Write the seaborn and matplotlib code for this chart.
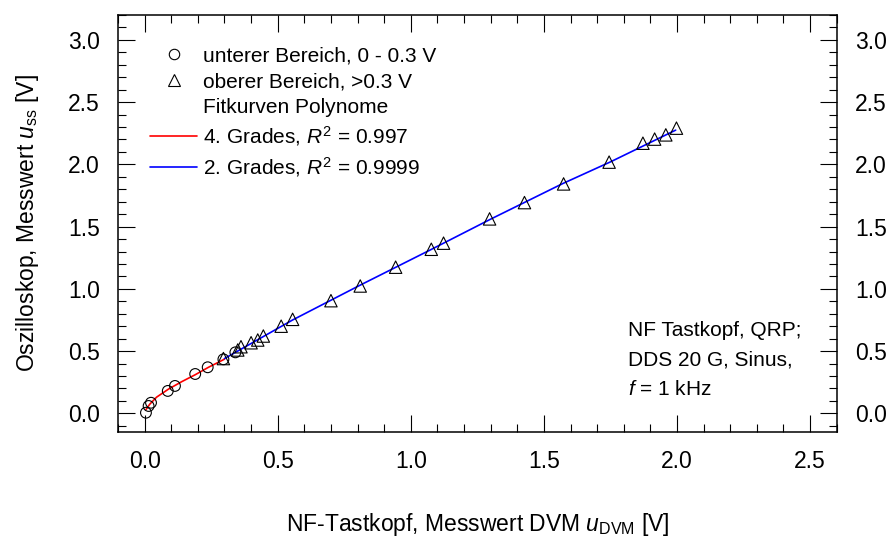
import matplotlib
matplotlib.use("Agg")
import matplotlib.pyplot as plt
from matplotlib.ticker import MultipleLocator, FormatStrFormatter
from matplotlib.lines import Line2D
import seaborn as sns
import pandas as pd

# ---- data ----
x_lo = [0.005, 0.015, 0.024, 0.087, 0.114, 0.19, 0.237, 0.296, 0.341]
y_lo = [0.005, 0.059, 0.085, 0.18, 0.22, 0.316, 0.37, 0.434, 0.49]

x_hi = [0.296, 0.35, 0.362, 0.40, 0.425, 0.446, 0.513, 0.556, 0.70, 0.81, 0.943,
        1.077, 1.123, 1.296, 1.427, 1.574, 1.745, 1.872, 1.916, 1.958, 1.998]
y_hi = [0.44, 0.509, 0.535, 0.567, 0.589, 0.621, 0.70, 0.755, 0.905, 1.023, 1.174,
        1.318, 1.367, 1.562, 1.693, 1.843, 2.018, 2.17, 2.203, 2.237, 2.291]

fit4_x = [0.005, 0.02, 0.045, 0.09, 0.14, 0.19, 0.24, 0.30]
fit4_y = [0.03, 0.075, 0.13, 0.195, 0.255, 0.31, 0.37, 0.435]

fit2_x = [0.30, 0.556, 0.81, 1.08, 1.30, 1.57, 1.75, 1.995]
fit2_y = [0.44, 0.75, 1.03, 1.32, 1.56, 1.845, 2.02, 2.275]

legend_labels = ["unterer Bereich, 0 - 0.3 V", "oberer Bereich, >0.3 V",
                 "Fitkurven Polynome", r"4. Grades, $R^2$ = 0.997",
                 r"2. Grades, $R^2$ = 0.9999"]
note_text = "NF Tastkopf, QRP;\nDDS 20 G, Sinus,\n$f$ = 1 kHz"
xlabel = r"NF-Tastkopf, Messwert DVM $u_{\mathrm{DVM}}$ [V]"
ylabel = r"Oszilloskop, Messwert $u_{\mathrm{ss}}$ [V]"

sns.set_theme(style="ticks")
plt.rcParams["font.family"] = ["Liberation Sans", "DejaVu Sans"]
plt.rcParams["mathtext.fontset"] = "custom"
plt.rcParams["mathtext.rm"] = "Liberation Sans"
plt.rcParams["mathtext.it"] = "Liberation Sans:italic"
plt.rcParams["mathtext.bf"] = "Liberation Sans:bold"
plt.rcParams["text.color"] = "black"
plt.rcParams["axes.labelcolor"] = "black"

fig = plt.figure(figsize=(8.95, 5.36), dpi=100)
ax = fig.add_axes([118 / 895, 1 - 432 / 536, (836.7 - 118) / 895, (432 - 15) / 536])

df_lo = pd.DataFrame({"x": x_lo, "y": y_lo})
df_hi = pd.DataFrame({"x": x_hi, "y": y_hi})
df_f4 = pd.DataFrame({"x": fit4_x, "y": fit4_y})
df_f2 = pd.DataFrame({"x": fit2_x, "y": fit2_y})

sns.lineplot(data=df_f4, x="x", y="y", ax=ax, color="#ff0000", lw=1.2, sort=False, zorder=2)
sns.lineplot(data=df_f2, x="x", y="y", ax=ax, color="#0000ff", lw=1.2, sort=False, zorder=2)
sns.scatterplot(data=df_lo, x="x", y="y", ax=ax, marker="o", s=60,
                facecolor="none", edgecolor="black", linewidth=0.8, zorder=3)
sns.scatterplot(data=df_hi, x="x", y="y", ax=ax, marker="^", s=80,
                facecolor="none", edgecolor="black", linewidth=0.8, zorder=3)

ax.set_xlim(-0.1, 2.6)
ax.set_ylim(-0.15, 3.2)
ax.xaxis.set_major_locator(MultipleLocator(0.5))
ax.xaxis.set_minor_locator(MultipleLocator(0.1))
ax.yaxis.set_major_locator(MultipleLocator(0.5))
ax.yaxis.set_minor_locator(MultipleLocator(0.1))
ax.xaxis.set_major_formatter(FormatStrFormatter("%.1f"))
ax.yaxis.set_major_formatter(FormatStrFormatter("%.1f"))

for s in ax.spines.values():
    s.set_visible(True)
    s.set_linewidth(1.1)
    s.set_color("black")

ax.tick_params(which="both", direction="in", top=True, right=True, labelright=True,
               color="black", width=0.8, labelsize=16.5, pad=13, labelcolor="black")
ax.tick_params(which="major", length=12)
ax.tick_params(which="minor", length=5.8)

ax.set_xlabel(xlabel, fontsize=16.5, labelpad=27, color="black")
ax.set_ylabel(ylabel, fontsize=16.5, labelpad=19.5, color="black")

handles = [
    Line2D([], [], ls="none", marker="o", ms=7.5, mfc="none", mec="black", mew=0.8),
    Line2D([], [], ls="none", marker="^", ms=8.5, mfc="none", mec="black", mew=0.8),
    Line2D([], [], ls="none"),
    Line2D([], [], color="#ff0000", lw=1.2),
    Line2D([], [], color="#0000ff", lw=1.2),
]
leg = ax.legend(handles, legend_labels, loc="upper left", bbox_to_anchor=(0.0445, 0.925),
                frameon=False, fontsize=15, handlelength=2.26, handletextpad=0.29,
                labelspacing=0.34, borderpad=0, borderaxespad=0)
for t in leg.get_texts():
    t.set_color("black")

ax.text((628 - 118) / 718.7, (432 - 321) / 417, note_text, transform=ax.transAxes,
        fontsize=15, va="top", ha="left", linespacing=1.7, color="black")

fig.savefig("out.png", dpi=100)
